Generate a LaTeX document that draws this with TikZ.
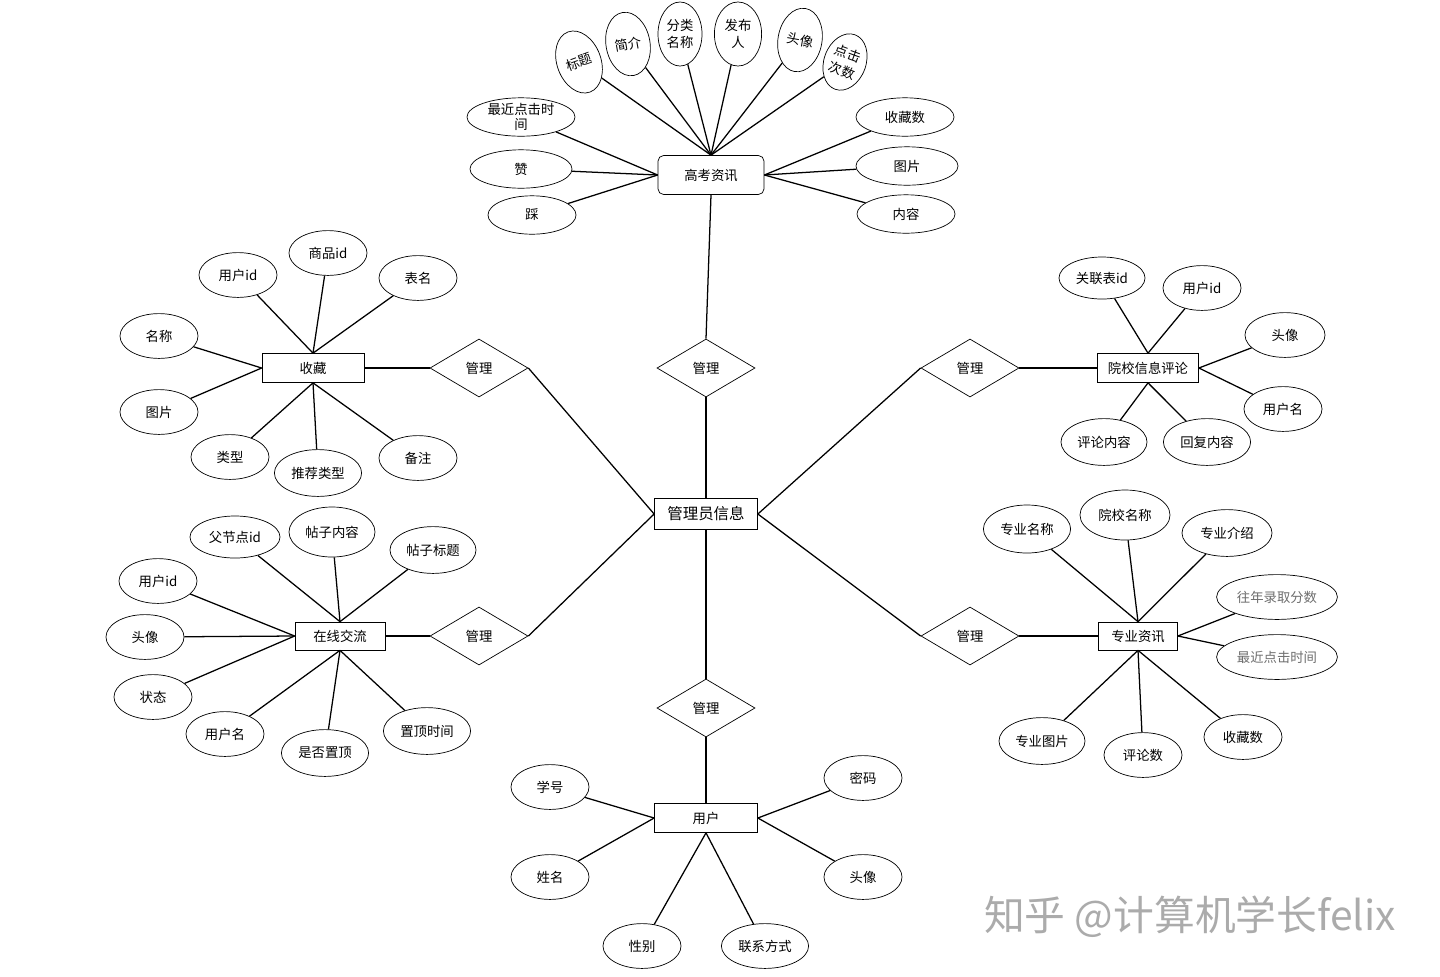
\documentclass[tikz,border=0pt]{standalone}
\usepackage{fontspec}
\setmainfont{Noto Sans CJK SC}
\usepackage{tikz}
\usetikzlibrary{
  positioning,
  shapes.geometric
}
\definecolor{erLine}{HTML}{000000}
\definecolor{erGray}{HTML}{6E6E6E}
\definecolor{erMark}{HTML}{ABABAB}

\begin{document}
\begin{tikzpicture}[
  x=0.025cm, y=-0.025cm,
  every node/.style={font=\fontsize{9.5}{11}\selectfont, align=center},
  entity/.style={
    rectangle, draw=erLine, line width=0.5pt, fill=white,
    minimum width=2.55cm, minimum height=0.725cm, inner sep=0pt
  },
  rel/.style={
    diamond, draw=erLine, line width=0.5pt, fill=white,
    minimum width=2.45cm, minimum height=1.45cm, inner sep=0pt
  },
  attr/.style={
    ellipse, draw=erLine, line width=0.5pt, fill=white,
    minimum width=1.95cm, minimum height=1.12cm, inner sep=0pt
  },
  attrw/.style={attr, minimum width=2.18cm, minimum height=1.17cm},
  attrs/.style={attr, minimum width=2.55cm, minimum height=0.96cm},
  attrt/.style={attr, minimum width=1.1cm, minimum height=1.6cm,
    font=\fontsize{9.5}{12.5}\selectfont},
  attrl/.style={attr, minimum width=3.02cm, minimum height=1.12cm,
    text=erGray},
  link/.style={draw=erLine, line width=0.9pt}
]
 \useasboundingbox (0,0) rectangle (1440,976);

 % Centre and relationships
 \node[entity, minimum width=2.575cm, minimum height=0.775cm,
   font=\fontsize{11}{13}\selectfont] (admin) at (706,514) {管理员信息};
 \node[rel] (mTop) at (706,368) {管理};
 \node[rel] (mFav) at (479,368) {管理};
 \node[rel] (mChat) at (479,636) {管理};
 \node[rel] (mCmt) at (970,368) {管理};
 \node[rel] (mMajor) at (970,636) {管理};
 \node[rel] (mUser) at (706,708) {管理};

 % Entities
 \node[entity, rounded corners=4pt, minimum width=2.65cm,
   minimum height=0.975cm] (gkzx) at (711,175) {高考资讯};
 \node[entity] (fav) at (313,368) {收藏};
 \node[entity, minimum width=2.25cm, minimum height=0.7cm] (chat)
   at (340,636) {在线交流};
 \node[entity, minimum width=2.525cm] (cmt) at (1148,368) {院校信息评论};
 \node[entity, minimum width=1.975cm, minimum height=0.7cm] (major)
   at (1138,636) {专业资讯};
 \node[entity, minimum width=2.575cm] (user) at (706,818) {用户};

 \draw[link] (admin.north) -- (mTop.south);
 \draw[link] (mTop.north) -- (gkzx.south);
 \draw[link] (admin.west) -- (mFav.east);
 \draw[link] (admin.west) -- (mChat.east);
 \draw[link] (admin.east) -- (mCmt.west);
 \draw[link] (admin.east) -- (mMajor.west);
 \draw[link] (admin.south) -- (mUser.north);
 \draw[link] (mUser.south) -- (user.north);
 \draw[link] (mFav.west) -- (fav.east);
 \draw[link] (mChat.west) -- (chat.east);
 \draw[link] (mCmt.east) -- (cmt.west);
 \draw[link] (mMajor.east) -- (major.west);

 % 高考资讯 attributes
 \node[attrt, rotate=20] (g1) at (579,62) {标题};
 \node[attrt, rotate=10] (g2) at (628,44) {简介};
 \node[attrt] (g3) at (680,34) {分类\\名称};
 \node[attrt, minimum width=1.18cm] (g4) at (738,34) {发布\\人};
 \node[attrt, rotate=-10] (g5) at (800,40) {头像};
 \node[attrt, rotate=-20, minimum width=1.05cm, minimum height=1.45cm]
   (g6) at (845,62) {点击\\次数};
 \node[attrs, minimum width=2.7cm, inner sep=-2pt] (g7) at (521,117)
   {最近点击时\\间};
 \node[attrs] (g8) at (521,169) {赞};
 \node[attrs, minimum width=2.2cm] (g9) at (532,215) {踩};
 \node[attrs, minimum width=2.45cm] (g10) at (905,117) {收藏数};
 \node[attrs] (g11) at (907,166) {图片};
 \node[attrs, minimum width=2.45cm] (g12) at (906,214) {内容};

 \foreach \a in {g1,g2,g3,g4,g5,g6}
  \draw[link] (\a) -- (gkzx.north);
 \foreach \a in {g7,g8,g9}
  \draw[link] (\a) -- (gkzx.west);
 \foreach \a in {g10,g11,g12}
  \draw[link] (\a) -- (gkzx.east);

 % 收藏 attributes
 \node[attr] (f1) at (238,275) {用户id};
 \node[attr] (f2) at (328,253) {商品id};
 \node[attr] (f3) at (418,278) {表名};
 \node[attr] (f4) at (159,336) {名称};
 \node[attr] (f5) at (159,412) {图片};
 \node[attr] (f6) at (230,457) {类型};
 \node[attrw] (f7) at (318,473) {推荐类型};
 \node[attr] (f8) at (418,458) {备注};

 \foreach \a in {f1,f2,f3}
  \draw[link] (\a) -- (fav.north);
 \foreach \a in {f4,f5}
  \draw[link] (\a) -- (fav.west);
 \foreach \a in {f6,f7,f8}
  \draw[link] (\a) -- (fav.south);

 % 在线交流 attributes
 \node[attrw, minimum width=2.25cm, minimum height=1.05cm] (c1)
   at (235,537) {父节点id};
 \node[attrw, minimum width=2.15cm, minimum height=1.25cm] (c2)
   at (332,532) {帖子内容};
 \node[attrw, minimum width=2.15cm] (c3) at (433,550) {帖子标题};
 \node[attr] (c4) at (158,581) {用户id};
 \node[attr] (c5) at (145,637) {头像};
 \node[attr] (c6) at (153,697) {状态};
 \node[attr] (c7) at (225,734) {用户名};
 \node[attrw] (c8) at (325,753) {是否置顶};
 \node[attrw] (c9) at (427,731) {置顶时间};

 \foreach \a in {c1,c2,c3}
  \draw[link] (\a) -- (chat.north);
 \foreach \a in {c4,c5,c6}
  \draw[link] (\a) -- (chat.west);
 \foreach \a in {c7,c8,c9}
  \draw[link] (\a) -- (chat.south);

 % 院校信息评论 attributes
 \node[attrw, minimum width=2.15cm, minimum height=1.05cm] (r1)
   at (1102,278) {关联表id};
 \node[attr] (r2) at (1202,288) {用户id};
 \node[attr, minimum width=2cm] (r3) at (1285,335) {头像};
 \node[attr] (r4) at (1283,409) {用户名};
 \node[attrw, minimum width=2.15cm] (r5) at (1104,442) {评论内容};
 \node[attrw] (r6) at (1207,442) {回复内容};

 \foreach \a in {r1,r2}
  \draw[link] (\a) -- (cmt.north);
 \foreach \a in {r3,r4}
  \draw[link] (\a) -- (cmt.east);
 \foreach \a in {r5,r6}
  \draw[link] (\a) -- (cmt.south);

 % 专业资讯 attributes
 \node[attrw, minimum height=1.2cm] (z1) at (1027,529) {专业名称};
 \node[attrw, minimum width=2.25cm, minimum height=1.25cm] (z2)
   at (1125,515) {院校名称};
 \node[attrw, minimum width=2.25cm] (z3) at (1227,533) {专业介绍};
 \node[attrl] (z4) at (1277,597) {往年录取分数};
 \node[attrl] (z5) at (1277,657) {最近点击时间};
 \node[attrw, minimum width=2.15cm] (z6) at (1042,741) {专业图片};
 \node[attr] (z7) at (1143,755) {评论数};
 \node[attr] (z8) at (1243,737) {收藏数};

 \foreach \a in {z1,z2,z3}
  \draw[link] (\a) -- (major.north);
 \foreach \a in {z4,z5}
  \draw[link] (\a) -- (major.east);
 \foreach \a in {z6,z7,z8}
  \draw[link] (\a) -- (major.south);

 % 用户 attributes
 \node[attr] (u1) at (550,787) {学号};
 \node[attr] (u2) at (550,877) {姓名};
 \node[attr] (u3) at (642,946) {性别};
 \node[attrw, minimum height=1.12cm] (u4) at (765,946) {联系方式};
 \node[attr] (u5) at (863,778) {密码};
 \node[attr] (u6) at (863,877) {头像};

 \foreach \a in {u1,u2}
  \draw[link] (\a) -- (user.west);
 \foreach \a in {u3,u4}
  \draw[link] (\a) -- (user.south);
 \foreach \a in {u5,u6}
  \draw[link] (\a) -- (user.east);

 % Watermark
 \node[text=erMark, font=\fontsize{29}{32}\selectfont] (mark)
   at (1190,917) {知乎 @计算机学长felix};
\end{tikzpicture}
\end{document}
